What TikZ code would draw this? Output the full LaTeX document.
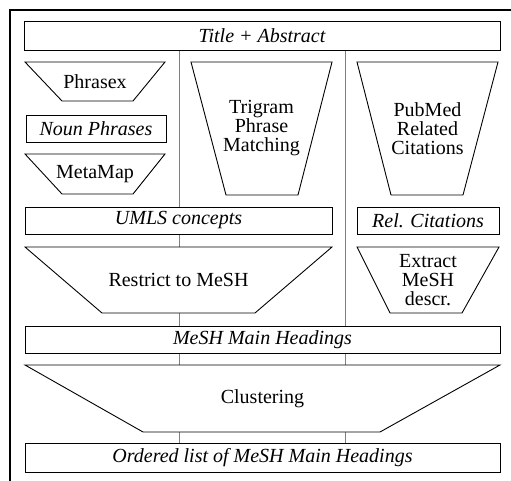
\documentclass[tikz,border=0pt]{standalone}
\usepackage{fontspec}
\setmainfont{Liberation Serif}
\usetikzlibrary{backgrounds}

\newcommand{\bodysize}{\fontsize{20}{19}\selectfont}

\tikzset{
  bar/.style={draw, fill=white, line width=0.9pt, inner sep=0pt, font=\bodysize\itshape},
  funnel/.style={draw, fill=white, line width=0.9pt},
  funtext/.style={align=center, inner sep=0pt, font=\bodysize},
  guide/.style={draw=gray, line width=0.6pt}
}

% funnel: name, top y, bottom y, top left, top right, bottom left, bottom right, text
\newcommand{\funnelbox}[8]{%
  \draw[funnel] (#4,#2) -- (#5,#2) -- (#7,#3) -- (#6,#3) -- cycle;
  \node[funtext] (#1) at ({(#4+#5)/2},{(#2+#3)/2}) {#8};
}

\begin{document}
\begin{tikzpicture}[x=1pt,y=-1pt]
\useasboundingbox (0,0) rectangle (511,481);

%frame
\draw[line width=1.2pt] (511,10) -- (10,10) -- (10,481);

%column guides
\coordinate (ga) at (179,0);
\coordinate (gb) at (345,0);

%bars
\node[bar, minimum width=476pt, minimum height=29pt] (title) at (262,35.5) {Title + Abstract};
\node[bar, minimum width=140pt, minimum height=27pt] (noun) at (96,128.5) {Noun Phrases};
\node[bar, minimum width=307pt, minimum height=27pt] (umls) at (178.5,220.5) {UMLS concepts};
\node[bar, minimum width=142pt, minimum height=27pt] (rel) at (428,220.5) {Rel. Citations};
\node[bar, minimum width=475pt, minimum height=27pt] (mesh) at (262.5,339.5) {MeSH Main Headings};
\node[bar, minimum width=475pt, minimum height=29pt] (ordered) at (262.5,457.5) {Ordered list of MeSH Main Headings};

%funnels
\funnelbox{phrasex}{62}{101}{25}{165}{62}{133}{Phrasex}
\funnelbox{metamap}{154}{194}{25}{165}{62}{133}{MetaMap}
\funnelbox{trigram}{62}{195}{191}{332}{226}{298}{Trigram\\Phrase\\Matching}
\funnelbox{pubmed}{62}{195}{357}{498}{391}{463}{PubMed\\Related\\Citations}
\funnelbox{restrict}{247}{313}{25}{332}{102}{255}{Restrict to MeSH}
\funnelbox{extract}{247}{313}{357}{499}{390}{462}{Extract\\MeSH\\descr.}
\funnelbox{cluster}{365}{432}{25}{500}{143}{380}{Clustering}

%guides behind
\begin{scope}[on background layer]
\draw[guide] (title.south -| ga) -- (mesh.north -| ga);
\draw[guide] (title.south -| gb) -- (mesh.north -| gb);
\draw[guide] (mesh.south -| ga) -- (ordered.north -| ga);
\draw[guide] (mesh.south -| gb) -- (ordered.north -| gb);
\end{scope}

\end{tikzpicture}
\end{document}
